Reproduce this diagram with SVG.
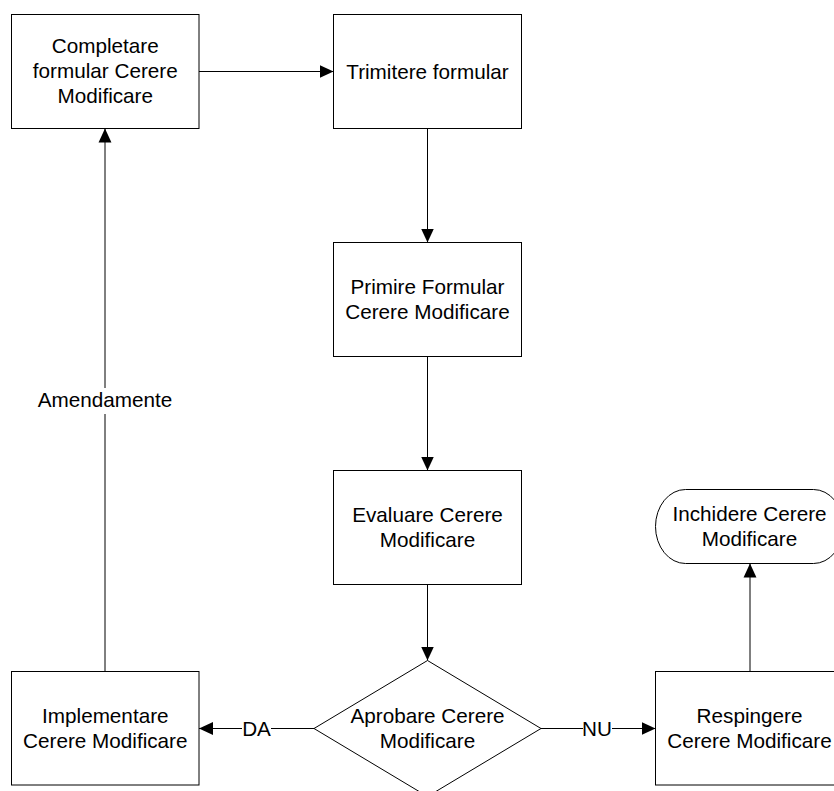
<svg xmlns="http://www.w3.org/2000/svg" width="834" height="791" viewBox="0 0 834 791">
<style>
.n{fill:#fff;stroke:#000;stroke-width:1}
.t{font-family:"Liberation Sans",Arial,sans-serif;font-size:20.7px;fill:#000;text-anchor:middle}
.c{fill:none;stroke:#000;stroke-width:1;marker-end:url(#ah)}
.l{fill:none;stroke:#000;stroke-width:1}
</style>
<defs>
<marker id="ah" markerUnits="userSpaceOnUse" markerWidth="14" markerHeight="14" viewBox="0 0 13 12" refX="13" refY="6" orient="auto">
<path d="M0,0 L13,6 L0,12 Z" fill="#000"/>
</marker>
</defs>
<rect width="834" height="791" fill="#fff"/>
<g id="connectors">
<path class="c" d="M199,71.5 H333.5"/>
<path class="c" d="M427.5,128.5 V242.5"/>
<path class="c" d="M427.5,356.5 V470.5"/>
<path class="c" d="M427.5,584.5 V660.5"/>
<path class="c" d="M314,728.5 H199"/>
<path class="c" d="M541,728.5 H655.5"/>
<path class="c" d="M750,671.5 V563.5"/>
<path class="c" d="M105,671.5 V128.5"/>
<rect x="30" y="388" width="150" height="26" fill="#fff"/>
<text class="t" x="105" y="406.7">Amendamente</text>
<rect x="242" y="716" width="29" height="24" fill="#fff"/>
<text class="t" x="256.5" y="735.5">DA</text>
<rect x="583" y="716" width="29" height="24" fill="#fff"/>
<text class="t" x="597" y="735.5">NU</text>
</g>
<g id="completare">
<rect class="n" x="11.5" y="14.5" width="187.5" height="114"/>
<text class="t" x="105.3" y="53">Completare</text>
<text class="t" x="105.3" y="78">formular Cerere</text>
<text class="t" x="105.3" y="103">Modificare</text>
</g>
<g id="trimitere">
<rect class="n" x="333.5" y="14.5" width="188" height="114"/>
<text class="t" x="427.5" y="78.5">Trimitere formular</text>
</g>
<g id="primire">
<rect class="n" x="333.5" y="242.5" width="188" height="114"/>
<text class="t" x="427.5" y="294">Primire Formular</text>
<text class="t" x="427.5" y="319">Cerere Modificare</text>
</g>
<g id="evaluare">
<rect class="n" x="333.5" y="470.5" width="188" height="114"/>
<text class="t" x="427.5" y="522">Evaluare Cerere</text>
<text class="t" x="427.5" y="547">Modificare</text>
</g>
<g id="aprobare">
<polygon class="n" points="427.5,660.5 541,728.5 427.5,796.5 314,728.5"/>
<text class="t" x="427.5" y="723">Aprobare Cerere</text>
<text class="t" x="427.5" y="748">Modificare</text>
</g>
<g id="implementare">
<rect class="n" x="11.5" y="671.5" width="187.5" height="113.5"/>
<text class="t" x="105.3" y="723">Implementare</text>
<text class="t" x="105.3" y="748">Cerere Modificare</text>
</g>
<g id="respingere">
<rect class="n" x="655.5" y="671.5" width="188" height="113.5"/>
<text class="t" x="749.5" y="723">Respingere</text>
<text class="t" x="749.5" y="748">Cerere Modificare</text>
</g>
<g id="inchidere">
<rect class="n" x="655.5" y="489.5" width="188" height="74" rx="30" ry="37"/>
<text class="t" x="749.5" y="521">Inchidere Cerere</text>
<text class="t" x="749.5" y="546">Modificare</text>
</g>
</svg>
